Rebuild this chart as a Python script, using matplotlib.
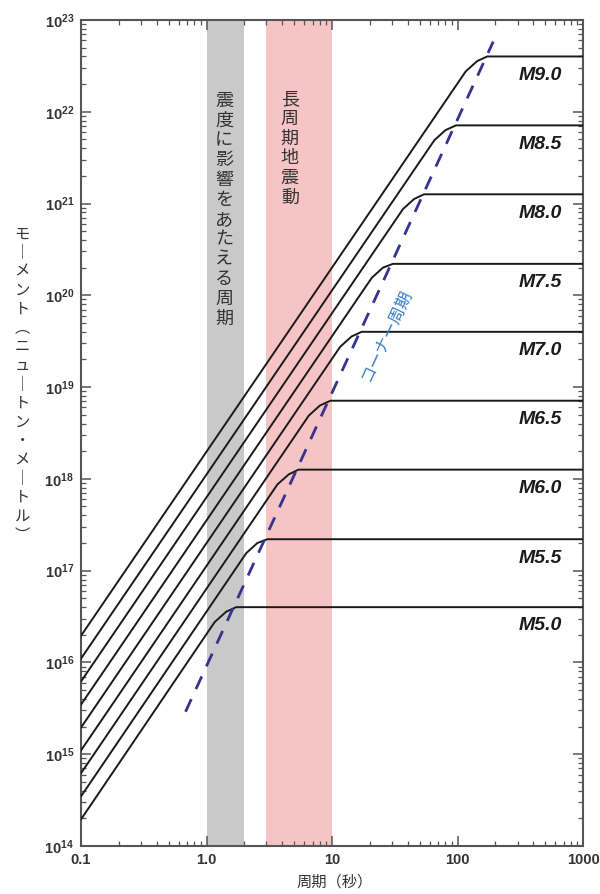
import matplotlib
matplotlib.use('Agg')
import matplotlib.pyplot as plt
from matplotlib.ticker import LogLocator, FixedLocator, FixedFormatter, NullFormatter

# --- DATA ---
MAG_LABELS = ['M5.0', 'M5.5', 'M6.0', 'M6.5', 'M7.0', 'M7.5', 'M8.0', 'M8.5', 'M9.0']
M0 = [4.0e16, 2.2e17, 1.26e18, 7.1e18, 4.0e19, 2.2e20, 1.26e21, 7.1e21, 4.0e22]      # flat level
TC = [1.72, 3.05, 5.4, 9.7, 17.2, 30.5, 54.0, 97.0, 172.0]                          # corner (flat start)
T_KNEE = [1.16, 2.07, 3.67, 6.53, 11.6, 20.7, 36.7, 65.3, 116.0]
M_KNEE = [2.75e16, 1.55e17, 8.7e17, 4.9e18, 2.75e19, 1.55e20, 8.7e20, 4.9e21, 2.75e22]
T_MID = [1.43, 2.54, 4.52, 8.0, 14.3, 25.4, 45.0, 80.0, 143.0]
M_MID = [3.56e16, 2.0e17, 1.12e18, 6.3e18, 3.56e19, 2.0e20, 1.12e21, 6.3e21, 3.56e22]
M_LEFT = [1.95e14, 3.47e14, 6.2e14, 1.1e15, 1.95e15, 3.47e15, 6.2e15, 1.1e16, 1.95e16]  # value at T=0.1

CORNER_T = [0.68, 192.0]
CORNER_M = [2.9e15, 5.8e22]

GRAY_BAND = (1.0, 2.0)
PINK_BAND = (3.0, 10.0)

X_TICKS = [0.1, 1.0, 10, 100, 1000]
X_TICKLABELS = ['0.1', '1.0', '10', '100', '1000']
Y_EXP = list(range(14, 24))
# -------------------------------------

CJK = ['Noto Sans CJK JP', 'DejaVu Sans']
plt.rcParams['font.family'] = ['Liberation Sans', 'DejaVu Sans']
plt.rcParams['mathtext.default'] = 'regular'

fig = plt.figure(figsize=(6, 8.94), dpi=100)
ax = fig.add_axes([0.135, 0.0537, 0.837, 0.924])

ax.set_xscale('log')
ax.set_yscale('log')
ax.set_xlim(0.1, 1000)
ax.set_ylim(1e14, 1e23)

ax.axvspan(*GRAY_BAND, color='#c9c9c9', lw=0, zorder=0)
ax.axvspan(*PINK_BAND, color='#f6c4c5', lw=0, zorder=0)

for i in range(len(MAG_LABELS)):
    xs = [0.1, T_KNEE[i], T_MID[i], TC[i], 1000]
    ys = [M_LEFT[i], M_KNEE[i], M_MID[i], M0[i], M0[i]]
    ax.plot(xs, ys, color='#1a1a1a', lw=1.4, zorder=3, solid_joinstyle='round')
    ax.text(680, M0[i] / 10**0.205, MAG_LABELS[i], ha='right', va='center',
            fontsize=14, fontweight='bold', fontstyle='italic', color='#1a1a1a')

ax.plot(CORNER_T, CORNER_M, color='#34338e', lw=2.0, dashes=(5, 4), zorder=4)
ax.text(27, 3.7e19, 'コーナー周期', rotation=65, ha='center', va='center',
        fontsize=12, color='#3a80c8', family=CJK, rotation_mode='anchor')

# vertical band labels
ax.text(1.38, 10**20.93, '\n'.join('震度に影響をあたえる周期'), ha='center', va='center',
        fontsize=13, color='#333333', family=CJK, linespacing=1.13)
ax.text(4.6, 10**21.6, '\n'.join('長周期地震動'), ha='center', va='center',
        fontsize=13, color='#333333', family=CJK, linespacing=1.13)

# axes styling
ax.xaxis.set_major_locator(FixedLocator(X_TICKS))
ax.xaxis.set_major_formatter(FixedFormatter(X_TICKLABELS))
ax.xaxis.set_minor_locator(LogLocator(base=10, subs=range(2, 10)))
ax.xaxis.set_minor_formatter(NullFormatter())
ax.yaxis.set_major_locator(FixedLocator([10.0**e for e in Y_EXP]))
ax.yaxis.set_major_formatter(FixedFormatter(['$10^{%d}$' % e for e in Y_EXP]))
ax.yaxis.set_minor_locator(LogLocator(base=10, subs=range(2, 10), numticks=20))
ax.yaxis.set_minor_formatter(NullFormatter())

ax.tick_params(which='both', direction='in', top=True, right=True, color='#555555')
ax.tick_params(which='major', length=7, width=1.1, labelsize=10.5, labelcolor='#333333', pad=5)
ax.tick_params(which='minor', length=3.5, width=0.9)
for lab in ax.get_xticklabels() + ax.get_yticklabels():
    lab.set_fontweight('bold')
for s in ax.spines.values():
    s.set_color('#555555')
    s.set_linewidth(1.5)

fig.text(0.557, 0.013, '周期（秒）', ha='center', va='center', fontsize=11,
         color='#333333', family=CJK)
ylab = 'モ｜メント︵ニュ｜トン・メ｜トル︶'
fig.text(0.037, 0.57, '\n'.join(ylab), ha='center', va='center', fontsize=11,
         color='#333333', family=CJK, linespacing=1.14)

fig.savefig('out.png', dpi=100)
